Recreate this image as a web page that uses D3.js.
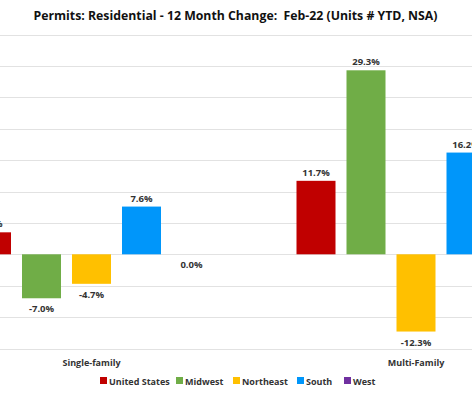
<!DOCTYPE html>
<html lang="en">
<head>
<meta charset="UTF-8">
<title>Permits: Residential</title>
<script src="https://cdn.jsdelivr.net/npm/d3@7"></script>
<style>
  body, html { margin: 0; background: #fff; overflow: hidden; }
  svg { display: block; font-family: "Open Sans", "Noto Sans", sans-serif; }
</style>
</head>
<body>
<svg width="472" height="394"></svg>
<script>
const categories = ["Single-family", "Multi-Family"];
const regions = ["United States", "Midwest", "Northeast", "South", "West"];
const colors = ["#C00000", "#70AD47", "#FFC000", "#0096FA", "#7030A0"];
// % change, one array per region: [single-family, multi-family]
const unitedStates = [3.5, 11.7];
const midwest = [-7.0, 29.3];
const northeast = [-4.7, -12.3];
const south = [7.6, 16.2];
const west = [0.0, 0.0];
const yTicks = [-15, -10, -5, 0, 5, 10, 15, 20, 25, 30, 35];

const series = [unitedStates, midwest, northeast, south, west];
const data = [];
categories.forEach((c, ci) => regions.forEach((r, ri) =>
  data.push({cat: c, region: r, value: series[ri][ci], color: colors[ri]})));

const svg = d3.select('svg');

svg.append('text').attr('x', 235.5).attr('y', 20).attr('text-anchor', 'middle')
  .attr('textLength', 404).attr('lengthAdjust', 'spacingAndGlyphs')
  .style('white-space', 'pre')
  .style('font-size', '13px').style('font-weight', 'bold').style('fill', '#111')
  .text('Permits: Residential - 12 Month Change:  Feb-22 (Units # YTD, NSA)');

const y = d3.scaleLinear().domain([-15, 35]).range([348.5, 34.5]);
const x0 = d3.scaleBand().domain(categories).range([-70.75, 578.25]);
const x1 = d3.scaleBand().domain(regions).range([0, x0.bandwidth()])
  .paddingInner(0.22).paddingOuter(0.855);

svg.append('g').selectAll('line').data(yTicks).enter().append('line')
  .attr('x1', 0).attr('x2', 472)
  .attr('y1', d => Math.round(y(d)) + 0.5).attr('y2', d => Math.round(y(d)) + 0.5)
  .attr('stroke', '#e2e2e2').attr('stroke-width', 1);

svg.append('g').selectAll('rect').data(data).enter().append('rect')
  .attr('x', d => x0(d.cat) + x1(d.region))
  .attr('width', x1.bandwidth())
  .attr('y', d => y(Math.max(0, d.value)))
  .attr('height', d => Math.abs(y(d.value) - y(0)))
  .attr('fill', d => d.color);

svg.append('g').selectAll('text').data(data).enter().append('text')
  .attr('x', d => x0(d.cat) + x1(d.region) + x1.bandwidth() / 2)
  .attr('y', d => d.value > 0 ? y(d.value) - 5 : y(d.value) + 14)
  .attr('text-anchor', 'middle')
  .style('font-size', '9.5px').style('font-weight', 'bold').style('fill', '#333')
  .text(d => d.value.toFixed(1) + '%');

svg.append('g').selectAll('text').data(categories).enter().append('text')
  .attr('x', d => x0(d) + x0.bandwidth() / 2).attr('y', 366)
  .attr('text-anchor', 'middle')
  .style('font-size', '9px').style('font-weight', 'bold').style('fill', '#333')
  .text(d => d);

// legend
const legendX = [100, 176, 233, 297, 344];
const leg = svg.append('g').selectAll('g').data(regions).enter().append('g')
  .attr('transform', (d, i) => `translate(${legendX[i]},377)`);
leg.append('rect').attr('width', 7).attr('height', 7).attr('fill', (d, i) => colors[i]);
leg.append('text').attr('x', 9).attr('y', 7.5)
  .style('font-size', '9px').style('font-weight', 'bold').style('fill', '#333')
  .text(d => d);
</script>
</body>
</html>
